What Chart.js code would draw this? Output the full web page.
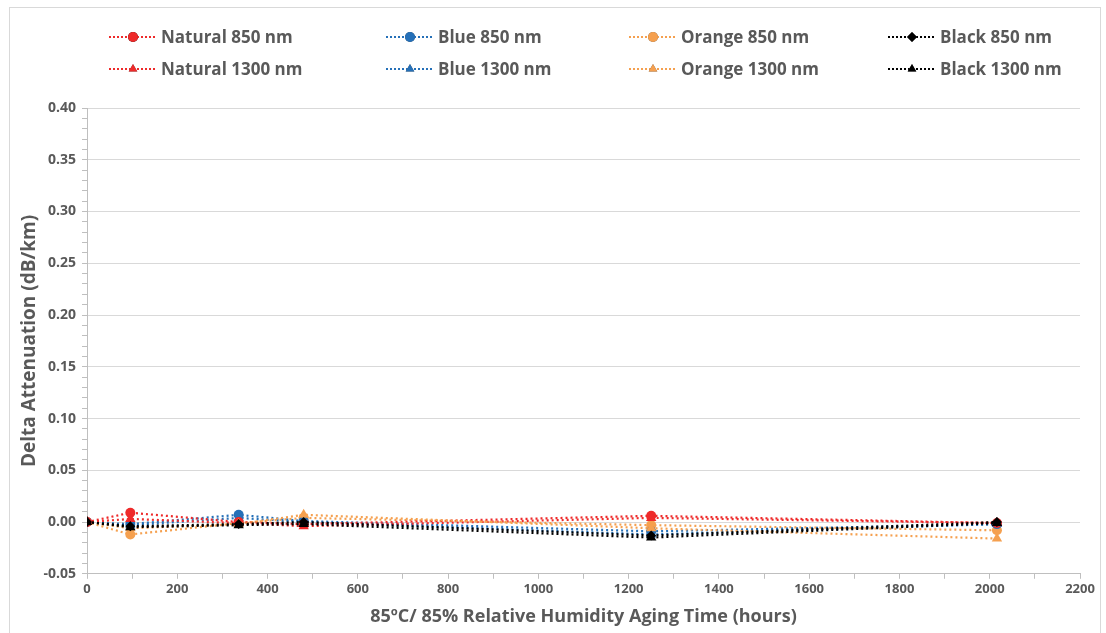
<!DOCTYPE html>
<html>
<head>
<meta charset="utf-8">
<script src="https://cdn.jsdelivr.net/npm/chart.js@4.4.0/dist/chart.umd.min.js"></script>
<style>
    body { margin: 0; background: #fff; }
    .ChartBox {
        position: absolute; left: 9px; top: 7px; width: 1092px; height: 630px;
        border: 1px solid #d9d9d9; box-sizing: border-box;
    }
    #MyChart { position: absolute; left: 0; top: 0; }
</style>
</head>
<body>
<div class="ChartBox"><canvas id="MyChart" width="1090" height="628"></canvas></div>
<script>
// aging time in hours
var hours = [0, 96, 336, 480, 1250, 2016];

// delta attenuation (dB/km)
var natural850 = [0, 0.009, 0.000, -0.002, 0.006, -0.001];
var blue850 = [0, -0.002, 0.007, 0.001, -0.009, -0.002];
var orange850 = [0, -0.012, -0.001, 0.004, -0.003, -0.008];
var black850 = [0, -0.004, -0.002, 0.000, -0.013, 0.000];
var natural1300 = [0, 0.003, -0.001, -0.004, 0.004, -0.001];
var blue1300 = [0, -0.003, 0.004, 0.000, -0.012, -0.002];
var orange1300 = [0, -0.006, -0.002, 0.007, -0.006, -0.016];
var black1300 = [0, -0.005, -0.003, -0.002, -0.015, -0.001];

var seriesNames = ["Natural 850 nm", "Blue 850 nm", "Orange 850 nm", "Black 850 nm",
    "Natural 1300 nm", "Blue 1300 nm", "Orange 1300 nm", "Black 1300 nm"];

var RED = "#ee2a2a", BLUE = "#2570b8", ORANGE = "#f5a04f", BLACK = "#000000";
var TEXT = "#595959";
var FONT = "'Open Sans', sans-serif";

function makeSet(name, values, color, marker, order) {
    return {
        label: name,
        data: values.map((v, i) => ({ x: hours[i], y: v })),
        borderColor: color,
        backgroundColor: color,
        borderWidth: 2.2,
        borderDash: [2, 3],
        pointStyle: marker,
        pointRadius: marker == "triangle" ? 6 : 5,
        pointBorderWidth: 0,
        order: order
    };
}

// draws the two row legend with a dotted line through each marker
var lineLegend = {
    id: "lineLegend",
    afterDraw(chart) {
        var c = chart.ctx;
        var colX = [99, 376, 619, 878];
        var rowY = [29, 61];
        c.save();
        chart.data.datasets.forEach((ds, i) => {
            var x = colX[i % 4], y = rowY[Math.floor(i / 4)];
            c.strokeStyle = ds.borderColor;
            c.lineWidth = 2;
            c.setLineDash([2, 2]);
            c.beginPath();
            c.moveTo(x, y);
            c.lineTo(x + 48, y);
            c.stroke();
            c.setLineDash([]);
            Chart.helpers.drawPoint(c, { pointStyle: ds.pointStyle, radius: 5, rotation: 0, borderWidth: 0 }, x + 24, y);
            c.fillStyle = ds.borderColor;
            c.fill();
            c.fillStyle = TEXT;
            c.font = "bold 17px " + FONT;
            c.textBaseline = "middle";
            c.fillText(ds.label, x + 52, y + 1);
        });
        c.restore();
    }
};

const ctx = document.getElementById("MyChart");

var ChartView = new Chart(ctx, {
    type: "line",
    data: {
        datasets: [
            makeSet(seriesNames[0], natural850, RED, "circle", 4),
            makeSet(seriesNames[1], blue850, BLUE, "circle", 5),
            makeSet(seriesNames[2], orange850, ORANGE, "circle", 6),
            makeSet(seriesNames[3], black850, BLACK, "rectRot", 1),
            makeSet(seriesNames[4], natural1300, RED, "triangle", 3),
            makeSet(seriesNames[5], blue1300, BLUE, "triangle", 7),
            makeSet(seriesNames[6], orange1300, ORANGE, "triangle", 2),
            makeSet(seriesNames[7], black1300, BLACK, "triangle", 0)
        ]
    },
    options: {
        responsive: false,
        animation: false,
        layout: { padding: { top: 100, right: 20, left: 4, bottom: 4 } },
        plugins: { legend: { display: false }, tooltip: { enabled: false } },
        scales: {
            x: {
                type: "linear",
                min: 0,
                max: 2200,
                border: { color: "#bfbfbf" },
                grid: { drawOnChartArea: false, tickColor: "#bfbfbf", tickLength: 5 },
                ticks: {
                    stepSize: 100,
                    autoSkip: false,
                    maxRotation: 0,
                    color: TEXT,
                    font: { family: FONT, size: 13, weight: "bold" },
                    callback: (v) => v % 200 == 0 ? v : ""
                },
                title: {
                    display: true,
                    text: "85ºC/ 85% Relative Humidity Aging Time (hours)",
                    color: TEXT,
                    font: { family: FONT, size: 18, weight: "bold" },
                    padding: { top: 6 }
                }
            },
            y: {
                min: -0.05,
                max: 0.40,
                border: { color: "#bfbfbf" },
                grid: {
                    color: (c) => Math.round(c.tick.value * 100) % 5 == 0 ? "#d9d9d9" : "rgba(0,0,0,0)",
                    tickColor: "#bfbfbf",
                    tickLength: 5
                },
                ticks: {
                    stepSize: 0.01,
                    autoSkip: false,
                    color: TEXT,
                    padding: 6,
                    font: { family: FONT, size: 14, weight: "bold" },
                    callback: (v) => Math.round(v * 100) % 5 == 0 ? v.toFixed(2) : ""
                },
                afterFit: (scale) => { scale.width = 73; },
                title: {
                    display: true,
                    text: "Delta Attenuation (dB/km)",
                    color: TEXT,
                    font: { family: FONT, size: 19, weight: "bold" },
                    padding: { top: 4, bottom: 4 }
                }
            }
        }
    },
    plugins: [lineLegend]
});
console.log(ChartView.chartArea);
</script>
</body>
</html>
